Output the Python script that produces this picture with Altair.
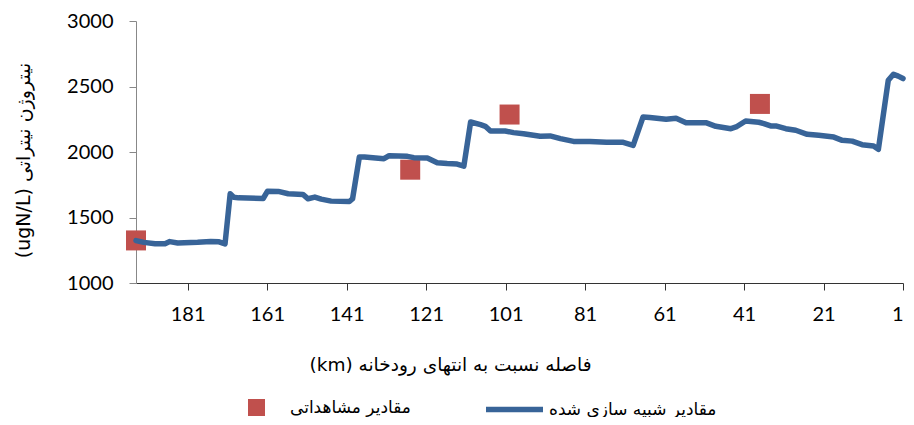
import altair as alt
import pandas as pd

SIM = "مقادیر شبیه سازی شده"
OBS = "مقادیر مشاهداتی"
X_TITLE = "(km) فاصله نسبت به انتهای رودخانه"
Y_TITLE = "(ugN/L) نیتروژن نیتراتی"
BLUE = "#386498"
RED = "#C0504D"

sim_km = [194.0, 192.0, 189.2, 186.7, 185.5, 183.5, 178.5, 175.2, 173.1, 171.6,
          170.3, 169.4, 168.2, 162.0, 160.9, 158.2, 155.7, 152.0, 150.7, 149.0,
          147.4, 144.9, 140.3, 139.5, 137.8, 136.5, 131.6, 130.3, 125.7, 124.1,
          120.7, 118.2, 115.7, 113.2, 111.5, 109.8, 107.3, 106.1, 104.8, 101.1,
          99.0, 96.5, 92.3, 89.8, 87.2, 83.9, 79.8, 75.6, 71.4, 68.9,
          66.4, 64.7, 60.6, 58.1, 55.6, 50.6, 48.1, 44.3, 43.0, 40.6,
          37.3, 36.0, 34.3, 33.0, 30.5, 28.0, 25.1, 22.2, 18.4, 16.3,
          13.8, 11.3, 8.4, 7.2, 4.7, 3.4, 2.2, 1.0]
sim_val = [1324, 1310, 1300, 1300, 1316, 1306, 1311, 1317, 1314, 1298,
           1681, 1655, 1650, 1645, 1701, 1699, 1681, 1676, 1643, 1656,
           1640, 1625, 1622, 1643, 1962, 1962, 1949, 1972, 1967, 1957,
           1954, 1918, 1912, 1908, 1892, 2229, 2209, 2196, 2160, 2160,
           2148, 2140, 2120, 2123, 2102, 2081, 2081, 2074, 2074, 2051,
           2268, 2263, 2250, 2258, 2224, 2224, 2196, 2178, 2191, 2237,
           2227, 2217, 2199, 2199, 2178, 2166, 2135, 2127, 2114, 2089,
           2083, 2056, 2046, 2020, 2548, 2594, 2579, 2561]

obs_km = [194, 125, 100, 37]
obs_val = [1325, 1865, 2286, 2367]

x_ticks = [181, 161, 141, 121, 101, 81, 61, 41, 21, 1]
y_ticks = [1000, 1500, 2000, 2500, 3000]

sim_df = pd.DataFrame({"km": sim_km, "val": sim_val, "series": SIM})
obs_df = pd.DataFrame({"km": obs_km, "val": obs_val, "series": OBS})

obs_legend = alt.Legend(
    title=None,
    orient="none",
    legendX=112,
    legendY=378,
    labelFont="DejaVu Sans",
    labelFontSize=17,
    labelColor="#000000",
    labelOffset=25,
    labelLimit=0,
    symbolType="square",
    symbolSize=289,
    symbolStrokeWidth=0,
    symbolOpacity=1,
    padding=0,
)
sim_legend = alt.Legend(
    title=None,
    orient="none",
    legendX=347,
    legendY=357,
    labelFont="DejaVu Sans",
    labelFontSize=17,
    labelColor="#000000",
    labelOffset=3,
    labelLimit=0,
    symbolType="stroke",
    symbolSize=3249,
    symbolStrokeWidth=5.5,
    symbolOpacity=1,
    padding=0,
)

x_enc = alt.X(
    "km:Q",
    scale=alt.Scale(domain=[1, 194], reverse=True, nice=False, zero=False),
    axis=alt.Axis(
        values=x_ticks,
        title=X_TITLE,
        grid=False,
        labelFont="Lato",
        labelFontSize=20,
        labelColor="#000000",
        labelPadding=14,
        tickSize=7,
        tickColor="#333333",
        domainColor="#333333",
        titleFont="DejaVu Sans",
        titleFontSize=18.5,
        titleFontWeight="normal",
        titleColor="#000000",
        titleX=314,
        titleY=81,
        titleAlign="center",
        titleBaseline="middle",
    ),
)
y_enc = alt.Y(
    "val:Q",
    scale=alt.Scale(domain=[1000, 3000], nice=False, zero=False),
    axis=alt.Axis(
        values=y_ticks,
        format="d",
        title=Y_TITLE,
        grid=False,
        labelFont="Lato",
        labelFontSize=20,
        labelColor="#000000",
        labelPadding=16,
        tickSize=7,
        tickColor="#888888",
        domainColor="#888888",
        titleFont="DejaVu Sans",
        titleFontSize=19,
        titleFontWeight="normal",
        titleColor="#000000",
        titleX=-113,
        titleY=139,
        titleAngle=270,
        titleAlign="center",
        titleBaseline="middle",
    ),
)

squares = alt.Chart(obs_df).mark_square(size=400, opacity=1, filled=True).encode(
    x=x_enc,
    y=y_enc,
    fill=alt.Fill("series:N", scale=alt.Scale(domain=[OBS], range=[RED]), legend=obs_legend),
)
line = alt.Chart(sim_df).mark_line(strokeWidth=5.5, strokeJoin="round", strokeCap="round").encode(
    x=x_enc,
    y=y_enc,
    stroke=alt.Stroke("series:N", scale=alt.Scale(domain=[SIM], range=[BLUE]), legend=sim_legend),
)

chart = alt.layer(squares, line).resolve_scale(fill="independent", stroke="independent").properties(
    width=767,
    height=262,
    padding={"left": 128, "top": 13, "right": 3, "bottom": 134},
    autosize=alt.AutoSizeParams(type="none"),
).configure_view(stroke=None)

chart.save("out.html", embed_options={"renderer": "svg", "actions": False})
